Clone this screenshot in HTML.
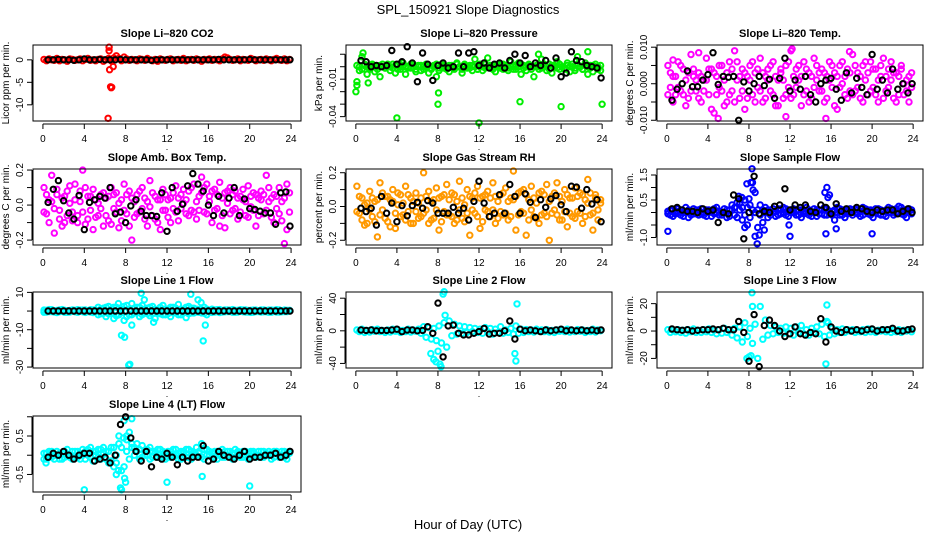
<!DOCTYPE html>
<html><head><meta charset="utf-8"><title>SPL_150921 Slope Diagnostics</title>
<style>
html,body{margin:0;padding:0;background:#fff;}
svg{display:block;font-family:"Liberation Sans",Arial,sans-serif;}
</style></head>
<body>
<svg id="chart" width="936" height="540" viewBox="0 0 936 540">
<text x="468" y="14" font-size="13" text-anchor="middle">SPL_150921  Slope Diagnostics</text>
<text x="468" y="529" font-size="13" text-anchor="middle">Hour of Day (UTC)</text>
</svg>
<script>
const hours96=[0.1,0.35,0.6,0.85,1.1,1.35,1.6,1.85,2.1,2.35,2.6,2.85,
3.1,3.35,3.6,3.85,4.1,4.35,4.6,4.85,5.1,5.35,5.6,5.85,
6.1,6.35,6.6,6.85,7.1,7.35,7.6,7.85,8.1,8.35,8.6,8.85,
9.1,9.35,9.6,9.85,10.1,10.35,10.6,10.85,11.1,11.35,11.6,11.85,
12.1,12.35,12.6,12.85,13.1,13.35,13.6,13.85,14.1,14.35,14.6,14.85,
15.1,15.35,15.6,15.85,16.1,16.35,16.6,16.85,17.1,17.35,17.6,17.85,
18.1,18.35,18.6,18.85,19.1,19.35,19.6,19.85,20.1,20.35,20.6,20.85,
21.1,21.35,21.6,21.85,22.1,22.35,22.6,22.85,23.1,23.35,23.6,23.85];
const hours48=[0.5,1,1.5,2,2.5,3,3.5,4,4.5,5,5.5,6,6.5,7,7.5,8,8.5,9,9.5,10,10.5,11,11.5,12,12.5,13,13.5,14,14.5,15,15.5,16,16.5,17,17.5,18,18.5,19,19.5,20,20.5,21,21.5,22,22.5,23,23.5,23.9];
const xTicks=[0,4,8,12,16,20,24];

// Panel 1: CO2
const co2Color=[0.1,-0.2,0.2,0,-0.1,0.3,-0.2,0.1,0,-0.3,0.2,0.1,
-0.1,0,0.2,-0.2,0.1,0.3,-0.1,0,-0.2,0.1,0.2,-0.3,
0,0.3,-0.2,0.4,0.9,0.3,-0.2,0.6,0.2,-0.1,0.1,0,
-0.2,0.2,0.1,-0.1,0.3,0,-0.2,0.1,-0.3,0.2,0,-0.1,
0.1,0.2,-0.2,0,0.1,-0.1,0.3,-0.2,0,0.1,-0.1,0.2,
0,-0.3,0.1,0,0.2,-0.1,0.1,0,-0.2,0.2,0.6,0.4,
0.1,-0.1,0,0.2,-0.2,0.1,0,-0.1,0.3,0.1,-0.2,0,
0.1,-0.1,0.2,0,-0.2,0.1,0.3,0,-0.1,0.2,-0.2,0.1];
const co2OutHours=[6.3,6.4,6.4,6.45,6.55,6.6,6.65,6.8];
const co2OutValues=[-13.0,2.8,2.0,-2.2,-6.0,-6.2,-6.1,-1.5];
const co2Black=[0,0,0.1,0,0,-0.1,0,0.2,0,0,0.1,0,0,0,0.1,0,0,0,0,0,-0.1,0,0,0,0,0,0,0,0,0,0,0,0,0.1,0,0,0,0,0,0.1,0,0,0,0,0,0,0,0];
const co2YTicks=[-10,-5,0];

// Panel 2: Pressure
const presColor=[-0.012,-0.003,0.008,0.002,-0.006,-0.002,0.001,-0.004,0,-0.008,0.002,-0.001,
0,-0.003,0.002,-0.005,0.001,-0.002,0.003,-0.006,0,-0.001,0.002,-0.004,
0.001,-0.003,0,0.002,-0.005,-0.002,0.001,-0.008,-0.003,0.002,-0.001,0,
-0.004,0.001,-0.002,0.003,0,-0.005,0.002,-0.001,0.001,-0.003,0.006,-0.002,
0,-0.003,0.002,0.007,-0.001,0.001,-0.004,0,0.002,-0.002,0.001,-0.003,
0.004,-0.002,0,0.003,-0.006,0.001,-0.003,0.002,0,-0.008,0.001,-0.002,
0.006,0,-0.003,0.002,-0.005,0.001,0.004,-0.002,0,-0.001,0.003,-0.004,
0.002,-0.003,0.008,0,-0.002,0.003,-0.006,0.001,-0.004,0.002,0,-0.003];
const presColorB=[0.001,0,-0.002,0.001,0,-0.001,0.002,0,-0.002,0.001,0,-0.001,
0.002,0,-0.001,0.001,-0.002,0,0.001,0,-0.001,0.002,0,-0.002,
0,0.001,-0.002,0,0.001,-0.001,0,0.002,-0.001,0,0.001,-0.002,
0.001,0,-0.001,0.002,0,-0.002,0.001,0,-0.001,0.001,0,-0.002,
0.002,0,-0.001,0,0.001,-0.002,0,0.001,-0.001,0.002,0,-0.001,
0,0.001,-0.002,0,0.002,-0.001,0,0.001,-0.002,0,0.001,0,
-0.001,0.002,0,-0.002,0.001,0,-0.001,0.002,0,-0.002,0.001,0,
0,-0.001,0.002,0,-0.002,0.001,0,-0.001,0.001,0,-0.002,0.001];
const presOutHours=[0.0,0.1,0.7,1.2,4.0,8.0,8.05,12.0,16.0,20.0,24.0,17.8,22.6];
const presOutValues=[-0.020,-0.015,0.011,-0.013,-0.041,-0.030,-0.021,-0.045,-0.028,-0.032,-0.030,0.010,0.012];
const presBlack=[0.005,0.004,0,0.001,0,0.001,0.013,0.002,0.004,0.016,0.003,-0.012,0.011,0.002,-0.011,0.001,0.003,-0.001,0,0.011,0,0.011,0.012,0.001,0.003,-0.001,0.002,0.003,-0.001,0.005,0.010,0.003,0.009,0,0.003,0.001,0.005,-0.001,0.007,-0.008,-0.005,0.012,0.005,0.004,0.001,0,-0.001,-0.009];
const presYTicks=[-0.04,-0.03,-0.02,-0.01,0,0.01];
const presYLabels=["-0.04","","","-0.01","",""];

// Panel 3: Li-820 Temp
const tempColor=[0.005,-0.001,0.002,-0.003,0.006,-0.002,0.004,0.001,-0.004,0.008,0.002,-0.002,
0.003,-0.005,0.001,0.007,-0.003,0.004,-0.008,0.002,-0.001,0.005,-0.006,0.003,
0.006,-0.002,0.009,0.001,-0.004,0.004,-0.007,0.002,0.005,-0.003,0.003,-0.001,
0.007,-0.005,0.002,0.004,-0.002,0.006,-0.006,0.001,0.003,-0.004,0.005,-0.001,
0.009,-0.003,0.004,0.001,-0.006,0.006,-0.002,0.003,-0.004,0.007,0.001,-0.002,
0.004,-0.005,0.002,0.006,-0.001,0.003,-0.007,0.005,0,-0.003,0.004,-0.002,
0.008,-0.002,0.003,-0.004,0.005,0.001,-0.003,0.006,-0.001,0.004,-0.005,0.002,
0.007,-0.002,0.004,0.001,-0.004,0.003,-0.003,0.005,0,-0.002,0.002,-0.001];
const tempColorB=[-0.003,0.003,-0.005,0.002,-0.001,0.005,-0.003,-0.006,0.003,-0.002,0.004,0.001,
-0.004,0.002,-0.002,0.001,0.004,-0.007,0.003,-0.003,0.005,-0.002,0.001,-0.005,
-0.003,0.004,-0.005,0.006,0.002,-0.002,0.003,-0.004,0.001,0.006,-0.005,0.004,
-0.002,0.003,-0.004,0.001,0.005,-0.003,0.002,-0.006,0.004,0.001,-0.003,0.006,
-0.004,0.002,-0.001,0.005,0.002,-0.003,0.004,-0.005,0.002,-0.001,0.005,0.003,
-0.002,0.003,-0.004,0.001,0.005,-0.006,0.002,-0.001,0.006,0.002,-0.004,0.003,
-0.003,0.005,-0.001,0.002,-0.005,0.006,0.003,-0.002,0.004,-0.003,0.001,0.005,
-0.004,0.002,-0.001,0.006,0.003,-0.005,0.002,0.004,-0.003,0.001,-0.005,0.003];
const tempOutHours=[5.0,11.6,15.5,12.2,17.8,0.6,3.1];
const tempOutValues=[-0.0095,-0.009,-0.0095,0.0095,0.0088,0.0065,0.0085];
const tempBlack=[-0.0045,-0.0015,0,0.0035,-0.0008,-0.0008,0.001,0.0025,0.0085,-0.0002,0.002,0.0018,0.002,-0.01,0.0005,-0.002,0,0.002,-0.0005,0.0012,-0.004,0.0015,0.007,-0.002,0.001,-0.0015,0.002,-0.003,-0.005,0,0.001,0.0015,-0.0015,-0.0045,0.003,-0.0025,0.0015,-0.001,-0.003,0.008,-0.0015,0.001,-0.0025,0.004,-0.0015,0,-0.0025,0];
const tempYTicks=[-0.01,-0.005,0,0.005,0.01];
const tempYLabels=["-0.010","","0.000","","0.010"];

// Panel 4: Amb. Box Temp
const ambColor=[0.1,-0.05,0.03,0.17,-0.02,0.06,-0.08,0.04,-0.1,0.08,0.01,-0.04,
0.12,-0.06,0.02,0.2,-0.11,0.05,-0.03,0.09,-0.07,0.01,0.06,-0.12,
0.04,-0.09,0.1,-0.02,0.07,-0.13,0.03,0.12,-0.05,0.08,-0.2,0.02,
0.06,-0.04,0.1,-0.08,0.02,0.14,-0.06,0.05,-0.1,0.03,0.09,-0.03,
-0.07,0.04,-0.02,0.11,-0.09,0.06,0.01,-0.05,0.08,-0.03,0.12,-0.08,
0.05,0.16,-0.04,0.12,0.02,-0.1,0.09,-0.02,0.13,-0.06,0.07,0.01,
0.1,-0.03,0.08,-0.08,0.05,0.03,-0.06,0.11,-0.01,0.07,-0.12,0.04,
0.08,-0.05,0.17,0.02,-0.07,0.06,-0.02,0.1,-0.09,0.04,-0.14,0.07];
const ambColorB=[-0.04,0.06,-0.1,0.02,-0.16,0.09,-0.03,-0.12,0.05,-0.06,0.11,-0.09,
0.03,-0.1,0.08,-0.04,0.1,-0.08,0.05,-0.14,0.03,-0.06,-0.02,0.07,
-0.06,0.05,-0.11,0.06,-0.04,0.01,-0.09,-0.03,0.06,-0.12,0.04,-0.07,
-0.05,0.08,-0.02,0.04,-0.12,-0.01,0.07,-0.08,0.03,-0.14,-0.03,0.06,
0.03,-0.1,0.07,-0.04,0.04,-0.02,0.09,0.03,-0.06,0.1,-0.04,0.02,
-0.03,0.07,0.1,-0.05,0.05,0.08,-0.03,0.06,-0.12,0.04,-0.13,0.08,
-0.05,0.06,-0.02,0.04,-0.04,0.09,0.02,-0.07,0.05,-0.03,0.06,-0.06,
0.03,0.06,-0.03,0.1,0.04,-0.1,0.05,-0.05,0.02,-0.22,0.12,-0.04];
const ambBlack=[0.015,0.09,0.14,0.025,-0.045,-0.08,0.055,-0.14,0.015,0.03,0.05,0.04,0.1,-0.05,-0.04,-0.1,-0.005,0.03,-0.035,-0.06,-0.06,-0.065,0.07,-0.15,0.1,-0.035,0.005,0.11,0.18,0.12,0.08,0,-0.06,0.05,-0.045,0.04,0.1,-0.06,0.035,-0.02,-0.025,-0.035,-0.045,-0.045,-0.11,0.07,0.075,-0.12];
const ambYTicks=[-0.2,-0.1,0,0.1,0.2];
const ambYLabels=["-0.2","","0.0","","0.2"];

// Panel 5: Gas Stream RH
const rhColor=[0.12,-0.04,0.05,-0.11,0.02,0.09,-0.06,0.03,-0.18,0.14,-0.02,0.06,
-0.09,0.04,0.1,-0.13,0.01,0.07,-0.05,0.12,-0.03,0.05,-0.1,0.08,
0.02,-0.06,0.2,-0.02,0.09,-0.08,0.04,0.11,-0.14,0.06,-0.03,0.13,
-0.05,0.08,-0.1,0.03,0.15,-0.07,0.01,0.1,-0.17,0.05,-0.04,0.12,
-0.13,0.06,-0.02,0.09,-0.06,0.14,-0.1,0.03,0.07,-0.05,0.11,-0.08,
0.05,0.21,-0.14,0.08,-0.03,0.1,-0.17,0.04,0.12,-0.06,0.02,-0.1,
0.09,-0.04,0.13,-0.2,0.06,-0.02,0.14,-0.08,0.03,0.1,-0.12,0.05,
-0.06,0.11,-0.03,0.08,-0.1,0.04,0.16,-0.05,-0.14,0.07,-0.02,0.04];
const rhColorB=[-0.03,0.06,-0.08,0.01,-0.1,-0.02,0.05,-0.09,0.04,-0.05,0.08,-0.07,
0.06,-0.12,0.03,-0.04,0.08,-0.06,0.02,-0.08,0.07,-0.1,0.03,-0.03,
-0.07,0.05,-0.04,0.06,-0.1,0.03,-0.07,-0.02,0.05,-0.09,0.07,-0.05,
0.04,-0.06,0.07,-0.08,-0.02,0.05,-0.09,-0.04,0.06,-0.02,0.08,-0.06,
0.05,-0.09,0.07,-0.03,0.05,-0.02,0.06,-0.07,-0.03,0.08,-0.04,0.03,
-0.06,0.04,0.06,-0.05,0.09,-0.04,0.07,-0.08,-0.02,0.05,-0.07,0.08,
-0.05,0.07,-0.06,0.03,-0.04,0.08,-0.05,0.06,-0.08,-0.03,0.07,-0.04,
0.05,-0.07,0.06,-0.04,0.07,-0.06,0.02,0.08,-0.04,0.05,-0.08,0.02];
const rhBlack=[-0.01,-0.03,-0.01,-0.11,0.06,-0.04,0.02,-0.09,0.005,-0.055,0.005,0.025,-0.01,0.035,0.02,-0.04,-0.04,-0.04,-0.005,-0.04,-0.01,-0.08,0.03,0.15,0.02,-0.06,-0.04,0.07,-0.04,0.13,0.06,-0.04,0.075,0.025,-0.065,0.04,-0.005,0.045,0.065,0.01,-0.03,0.12,0.115,-0.01,0.1,0.015,0.04,-0.09];
const rhYTicks=[-0.2,-0.1,0,0.1,0.2];
const rhYLabels=["-0.2","","0.0","","0.2"];

// Panel 6: Sample Flow
const sampColor=[-0.05,0.1,-0.15,0.05,0.15,-0.1,0.0,0.2,-0.2,0.05,-0.05,0.1,
-0.1,0.15,0.0,-0.15,0.1,0.05,-0.05,0.2,-0.1,0.0,0.15,-0.2,
0.1,0.3,-0.1,0.4,0.35,-0.3,0.5,-0.5,0.3,1.2,0.8,-0.6,
0.3,-0.4,0.2,-0.2,0.1,0.0,-0.15,0.15,-0.05,0.2,-0.1,0.05,
0.0,0.15,-0.1,0.1,-0.2,0.05,0.2,-0.1,0.0,0.15,-0.15,0.1,
-0.05,0.2,-0.1,0.7,0.05,-0.3,0.2,-0.1,0.1,-0.2,0.05,0.15,
-0.1,0.0,0.1,-0.15,0.2,0.05,-0.05,0.1,-0.2,0.0,0.15,-0.1,
0.05,-0.15,0.2,0.0,-0.1,0.15,0.25,-0.05,0.1,-0.2,0.05,0.1];
const sampColorB=[0.05,-0.1,0.1,-0.05,0,0.1,-0.15,0,0.1,-0.1,0.15,-0.05,
0.1,-0.05,-0.1,0.1,0,-0.15,0.15,0,0.05,-0.1,0,0.1,
-0.15,0.1,0.2,-0.2,0.1,0.2,-0.1,0.2,-0.2,0.1,0,0.1,
-0.1,0.1,0,0.1,-0.1,0.15,0.05,-0.1,0.1,0,0.15,-0.15,
0.1,0,0.05,-0.1,0.1,-0.05,0,0.1,-0.15,0,0.1,-0.05,
0.1,-0.1,0.15,0,-0.1,0.1,0,0.15,-0.1,0.1,-0.05,0,
0.1,0.15,-0.05,0.05,-0.1,0.15,0.1,-0.1,0.05,0.15,-0.05,0.1,
-0.1,0.1,0,0.15,0.1,-0.05,0,0.2,-0.1,0.1,0.15,-0.05];
const sampOutHours=[0.1,7.0,7.3,7.6,7.8,8.0,8.2,8.3,8.4,8.6,8.8,9.0,9.5,11.9,12.0,15.4,15.5,15.6,15.7,16.5,20.0];
const sampOutValues=[-0.75,0.65,0.6,-0.6,1.15,0.55,1.2,1.75,0.9,-0.95,-1.25,-0.9,-0.7,-0.5,-0.95,0.8,-0.85,1.0,0.6,-0.65,-0.85];
const sampBlack=[0.15,0.2,0.1,0.05,0.05,0.0,0.15,0.05,0.1,-0.4,0.0,-0.05,0.7,0.55,-1.05,0.0,1.45,-0.05,0.05,0.0,0.25,0.3,0.95,0.1,0.3,0.2,0.3,0.05,0.0,0.3,0.2,-0.05,0.35,0.05,0.15,0.0,0.2,0.15,0.05,0.0,0.1,0.05,0.1,0.1,-0.05,0.05,0.15,0.0];
const sampYTicks=[-1.0,-0.5,0,0.5,1.0,1.5];
const sampYLabels=["-1.0","","","0.5","","1.5"];

// Panel 7: Line 1 Flow
const l1Color=[0.5,-0.5,0.8,-0.3,0.2,-0.8,0.6,-0.2,0.4,-0.6,0.3,0.0,
-0.4,0.7,-0.2,0.5,-0.7,0.2,-0.5,0.6,-0.3,2.0,-1.5,1.5,
-3,2.5,-1,-4,2,-2,1,-5,3,-2,4,-1,
2,-3,3,-1,1.5,-2.5,2.5,-4,0.5,-1.5,3,-2,
1,-3,2,-1,3.5,-2,1,-3.5,2.5,-1,1.5,-0.5,
0.8,-1,2,-2,0.5,1,-0.5,0.7,-0.8,0.3,-0.4,0.6,
-0.3,0.8,-0.6,0.4,-0.2,0.6,-0.5,0.3,-0.7,0.5,-0.3,0.2,
0.6,-0.4,0.3,-0.6,0.5,-0.2,0.7,-0.5,0.2,-0.3,0.4,0.0];
const l1ColorB=[-0.6,0.4,-0.3,0.7,-0.5,0.3,-0.4,0.8,-0.6,0.2,-0.5,0.6,
0.4,-0.6,0.5,-0.4,0.6,-0.3,0.7,-0.8,0.5,-2,1,-1.2,
2,-1.5,1,2,-2.5,1.5,-1,2.5,-3,1,-2,1.5,
-1,2,-2,1,-1.5,2,-1.5,1,-1,2,-2,1,
-1.5,2,-1,1.5,-2,1,-1,2,-1.5,1.5,-1,1,
-0.6,0.8,-1.2,1,-0.5,-0.7,0.6,-0.4,0.8,-0.5,0.6,-0.3,
0.5,-0.6,0.4,-0.5,0.7,-0.4,0.6,-0.5,0.4,-0.6,0.5,-0.3,
-0.5,0.6,-0.4,0.5,-0.6,0.4,-0.5,0.6,-0.4,0.5,-0.3,0.4];
const l1OutHours=[7.3,7.6,7.9,8.3,8.4,8.6,9.5,9.8,10.7,14.3,15.0,15.3,15.5,15.7];
const l1OutValues=[4,-13,-14,-29,-28.5,-7.5,9.5,6,-6,9,6,4.5,-16,-7.5];
const l1Black=[0,0,0,0,0,0,0,0,0,0,0,0,0,0,0,0,0,0,0,0,0,0,0,0,0,0,0,0,0,0,0,0,0,0,0,0,0,0,0,0,0,0,0,0,0,0,0,0];
const l1YTicks=[-30,-20,-10,0,10];
const l1YLabels=["-30","","-10","","10"];

// Panel 8: Line 2 Flow
const l2Color=[1,-1,2,-2,0.5,-1.5,1.5,-0.5,2,-1,0.5,-2,
1,-1.5,2,-0.5,1.5,-2,0.5,-1,2,-1.5,1,-0.5,
2,-3,5,-8,4,-10,3,-12,6,-15,10,-20,
12,-6,8,-4,6,-3,5,-2,4,-1,3,-2,
2,-3,4,-1,3,-4,2,-2,5,-3,1,-2,
3,-4,6,-3,2,-2,1.5,-1,1,-1.5,2,-0.5,
1,-1,1.5,-1.5,0.5,-2,1,-0.5,1.5,-1,2,-1.5,
0.5,-1,1.5,-0.5,1,-2,0.5,-1,2,-1.5,1,0];
const l2OutHours=[7.3,7.6,7.8,8.0,8.2,8.3,8.5,8.6,8.7,15.5,15.6,15.7];
const l2OutValues=[-28,-35,-38,-25,-41,-44,45,48,19,-28,-37,33];
const l2Black=[1,0.5,1,0,0.5,0.5,1,2,-1,1,1,0,0.5,5,-3,34,-32,6,7,-3,-5,-5,-3,-1,3,-4,-3,-3,0,12,-10,2,0,1,0,-1,1,0,1,2,0,1,0,1,0,1,0,1];
const l2YTicks=[-40,-20,0,20,40];
const l2YLabels=["-40","","0","","40"];

// Panel 9: Line 3 Flow
const l3Color=[1,-1,0.5,-0.5,1,-1,0.5,-1.5,1,-0.5,1.5,-1,
0.5,-1,1,-0.5,1.5,-1,0.5,-2,1,-1.5,2,-1,
1,-3,2,-5,3,-8,6,-4,2,-9,5,-20,
18,-6,8,-3,4,-2,3,-1,2,-1.5,3,-2,
2,-3,3,-1,4,-2,1,-3,2,-1,3,-2,
5,-4,7,-3,2,-2,1,-1,1.5,-1,1,0,
1,-1,0.5,-0.5,1,-1,1.5,-0.5,1,-1,0.5,0,
1,-0.5,1,-1,0.5,-0.5,1,-1,0.5,0,1,-0.5];
const l3OutHours=[7.8,8.0,8.2,8.3,8.35,15.5,15.6,15.7];
const l3OutValues=[-20,-19,-18,28,18,-24,19,6];
const l3Black=[1.5,1,0.5,1,0,0.5,1,1,1.5,1,2,1,1,7,-1,-22,12,-26,4,8,4,0,-4,-2,3,-2,-3,-1,-2,9,-8,3,0,-1,1,0,1,0,1,1.5,0,1,1,2,0,0,1,1.5];
const l3YTicks=[-20,-10,0,10,20];
const l3YLabels=["-20","","0","","20"];

// Panel 10: Line 4 (LT) Flow
const l4Color=[-0.1,0.05,0.1,-0.05,0.0,0.1,-0.1,0.05,-0.05,0.15,0.0,-0.1,
0.1,-0.05,0.05,0.15,-0.1,0.0,0.2,-0.15,0.1,-0.05,0.15,0.2,
0.1,-0.2,0.2,-0.3,0.0,0.5,-0.4,0.9,0.4,0.6,0.3,0.2,
0.3,-0.1,0.25,0.0,0.15,-0.1,0.1,0.05,-0.05,0.15,0.0,-0.1,
0.1,-0.05,0.15,0.0,-0.1,0.1,0.05,-0.05,0.15,-0.1,0.0,0.2,
0.05,0.3,-0.1,0.15,0.0,-0.05,0.1,-0.1,0.05,0.15,-0.05,0.1,
0.0,-0.1,0.15,0.05,-0.05,0.1,0.0,-0.1,0.1,0.05,-0.05,0.0,
0.1,-0.05,0.05,0.0,-0.1,0.1,0.05,-0.05,0.0,0.1,-0.1,0.05];
const l4ColorB=[0.05,-0.1,0,0.1,-0.1,0,0.05,-0.1,0.1,0,-0.05,0.1,
-0.05,0.1,-0.1,0,0.1,0.15,-0.05,0.1,0,0.15,-0.1,0.05,
-0.1,0.1,-0.15,0.2,-0.2,0.3,0.2,-0.3,0.1,-0.1,0.2,0,
0.1,0.15,-0.05,0.1,0,0.2,-0.05,0.1,0.15,-0.05,0.1,0.05,
-0.05,0.1,0,0.15,0.05,-0.1,0.1,0.15,-0.05,0.1,0.05,0,
0.1,-0.05,0.15,0,0.1,0.05,-0.05,0.1,0,-0.05,0.1,0,
0.1,0.05,-0.05,0.1,0,-0.05,0.1,0.05,-0.05,0.1,0,0.1,
-0.05,0.1,0,0.1,0.05,-0.05,0.1,0,0.1,-0.05,0.05,0.1];
const l4OutHours=[0.3,4.0,7.1,7.3,7.5,7.6,7.9,8.0,8.6,12.0,15.4,20.0,7.8,8.1];
const l4OutValues=[-0.2,-0.9,-0.5,-0.4,-0.85,-0.9,-0.6,-0.7,0.95,-0.7,-0.55,-0.8,0.45,0.5];
const l4Black=[-0.05,0.05,0,0.1,0,-0.1,0,0.05,0.05,-0.15,-0.1,-0.05,-0.2,0,0.8,1.0,0.45,0.1,-0.15,0.1,-0.3,-0.05,-0.1,0.05,-0.05,-0.25,-0.05,-0.15,-0.05,-0.05,0.25,-0.15,-0.1,0.1,0,-0.05,-0.1,0,0.1,-0.1,-0.05,-0.05,0,0,0.05,-0.05,0,0.1];
const l4YTicks=[-0.5,0,0.5,1.0];
const l4YLabels=["-0.5","","0.5",""];

const NS='http://www.w3.org/2000/svg';
const svg=document.getElementById('chart');
const colLeft=[33,346,657], colRight=[301,612,923];
const rowTop=[45,169,292,416], boxH=76;
const xMin=-0.96, xMax=24.96;

function mk(tag,attrs,parent){const e=document.createElementNS(NS,tag);for(const k in attrs)e.setAttribute(k,attrs[k]);(parent||svg).appendChild(e);return e;}

const panels=[
 {key:'co2',title:'Slope Li\u2013820 CO2',ylab:'Licor ppm per min.',col:0,row:0,ymin:-13.6,ymax:3.3,color:'#ff0000',c:[co2Color],oh:co2OutHours,ov:co2OutValues,b:co2Black,yt:co2YTicks,yl:null},
 {key:'pressure',title:'Slope Li\u2013820 Pressure',ylab:'kPa per min.',col:1,row:0,ymin:-0.0435,ymax:0.0174,color:'#00ee00',c:[presColor,presColorB],oh:presOutHours,ov:presOutValues,b:presBlack,yt:presYTicks,yl:presYLabels},
 {key:'li820-temp',title:'Slope Li\u2013820 Temp.',ylab:'degrees C per min.',col:2,row:0,ymin:-0.0102,ymax:0.0106,color:'#ff00ff',c:[tempColor,tempColorB],oh:tempOutHours,ov:tempOutValues,b:tempBlack,yt:tempYTicks,yl:tempYLabels},
 {key:'amb-box-temp',title:'Slope Amb. Box Temp.',ylab:'degrees C per min.',col:0,row:1,ymin:-0.228,ymax:0.206,color:'#ff00ff',c:[ambColor,ambColorB],oh:[],ov:[],b:ambBlack,yt:ambYTicks,yl:ambYLabels},
 {key:'gas-stream-rh',title:'Slope Gas Stream RH',ylab:'percent per min.',col:1,row:1,ymin:-0.228,ymax:0.222,color:'#ff9900',c:[rhColor,rhColorB],oh:[],ov:[],b:rhBlack,yt:rhYTicks,yl:rhYLabels},
 {key:'sample-flow',title:'Slope Sample Flow',ylab:'ml/min per min.',col:2,row:1,ymin:-1.3,ymax:1.74,color:'#0000ff',c:[sampColor,sampColorB],oh:sampOutHours,ov:sampOutValues,b:sampBlack,yt:sampYTicks,yl:sampYLabels},
 {key:'line1-flow',title:'Slope Line 1 Flow',ylab:'ml/min per min.',col:0,row:2,ymin:-30.5,ymax:10.2,color:'#00ffff',c:[l1Color,l1ColorB],oh:l1OutHours,ov:l1OutValues,b:l1Black,yt:l1YTicks,yl:l1YLabels},
 {key:'line2-flow',title:'Slope Line 2 Flow',ylab:'ml/min per min.',col:1,row:2,ymin:-45.6,ymax:47.6,color:'#00ffff',c:[l2Color],oh:l2OutHours,ov:l2OutValues,b:l2Black,yt:l2YTicks,yl:l2YLabels},
 {key:'line3-flow',title:'Slope Line 3 Flow',ylab:'ml/min per min.',col:2,row:2,ymin:-27,ymax:28.5,color:'#00ffff',c:[l3Color],oh:l3OutHours,ov:l3OutValues,b:l3Black,yt:l3YTicks,yl:l3YLabels},
 {key:'line4-flow',title:'Slope Line 4 (LT) Flow',ylab:'ml/min per min.',col:0,row:3,ymin:-0.956,ymax:1.02,color:'#00ffff',c:[l4Color,l4ColorB],oh:l4OutHours,ov:l4OutValues,b:l4Black,yt:l4YTicks,yl:l4YLabels}
];

panels.forEach(p=>{
  const L=colLeft[p.col],R=colRight[p.col],T=rowTop[p.row],B=T+boxH;
  const xs=h=>L+(h-xMin)/(xMax-xMin)*(R-L);
  const ys=v=>B-(v-p.ymin)/(p.ymax-p.ymin)*(B-T);
  const g=mk('g',{});
  
  
  const t=mk('text',{x:(L+R)/2,y:T-8,'font-size':11,'font-weight':'bold','text-anchor':'middle'},g);
  t.textContent=p.title;
  
  
  const pts=mk('g',{fill:'none','stroke-width':2},g);
  
  
  p.c.forEach(arr=>{
    arr.forEach((v,i)=>{
      const c=mk('circle',{cx:xs(hours96[i]).toFixed(1),cy:ys(v).toFixed(1),r:2.7,stroke:p.color},pts);
      
      
    });
  });
  p.oh.forEach((h,i)=>{
    const c=mk('circle',{cx:xs(h).toFixed(1),cy:ys(p.ov[i]).toFixed(1),r:2.7,stroke:p.color},pts);
    
    
  });
  p.b.forEach((v,i)=>{
    const c=mk('circle',{cx:xs(hours48[i]).toFixed(1),cy:ys(v).toFixed(1),r:2.7,stroke:'#000'},pts);
    
    
  });
  const box=mk('rect',{x:L,y:T,width:R-L,height:boxH,fill:'none',stroke:'#000','stroke-width':1},g);
  
  
  const xa=mk('g',{},g);
  
  
  mk('line',{x1:xs(0),x2:xs(24),y1:B+3,y2:B+3,stroke:'#000'},xa);
  xTicks.forEach(h=>{
    mk('line',{x1:xs(h),x2:xs(h),y1:B+3,y2:B+8,stroke:'#000'},xa);
    const tl=mk('text',{x:xs(h),y:B+21,'font-size':10,'text-anchor':'middle'},xa);
    tl.textContent=String(h);
    
    
  });
  const dot=mk('text',{x:(L+R)/2,y:B+29,'font-size':9,'text-anchor':'middle'},xa);
  dot.textContent='.';
  const ya=mk('g',{},g);
  
  
  const y0=ys(p.yt[0]),y1=ys(p.yt[p.yt.length-1]);
  mk('line',{x1:L-1,x2:L-1,y1:y0,y2:y1,stroke:'#000'},ya);
  p.yt.forEach((v,i)=>{
    const yy=ys(v);
    mk('line',{x1:L-6,x2:L-1,y1:yy,y2:yy,stroke:'#000'},ya);
    const lab=p.yl?p.yl[i]:String(v);
    if(lab){
      const tl=mk('text',{x:L-10,y:yy,'font-size':10,'text-anchor':'middle',transform:'rotate(-90 '+(L-10)+' '+yy+')'},ya);
      tl.textContent=lab;
      
      
    }
  });
  const yt=mk('text',{x:L-24,y:(T+B)/2,'font-size':10,'text-anchor':'middle',transform:'rotate(-90 '+(L-24)+' '+((T+B)/2)+')'},ya);
  yt.textContent=p.ylab;
  
  
});
</script>
</body></html>
